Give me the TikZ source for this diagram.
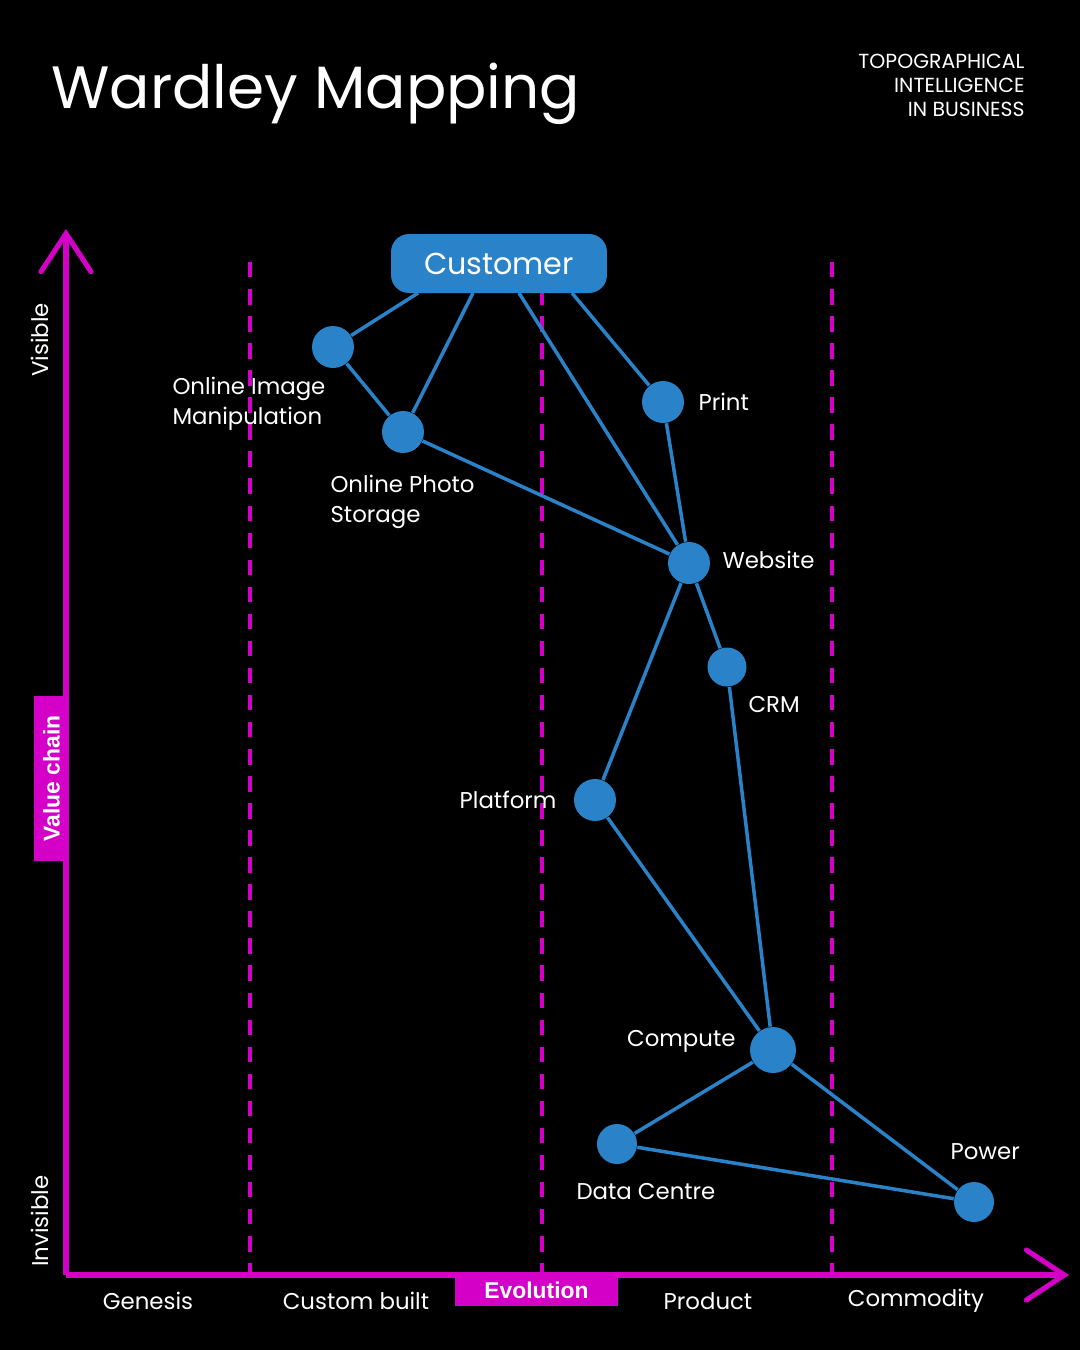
\documentclass[tikz,border=0pt]{standalone}
\usepackage{fontspec}
\setmainfont{Poppins}
\newfontfamily\boldsans{Liberation Sans}
\usepackage{tikz}
\usetikzlibrary{arrows.meta,positioning,calc}

\definecolor{wmagenta}{HTML}{D400C8}
\definecolor{wblue}{HTML}{2A82C8}

\begin{document}
\begin{tikzpicture}[x=0.02cm, y=-0.02cm, semithick]
\tikzstyle{comp}=[circle, fill=wblue, draw=none, minimum size=0.84cm, inner sep=0pt]
\tikzstyle{link}=[draw=wblue, line width=2pt]
\tikzstyle{lbl}=[text=white, inner sep=0pt, align=left, font=\fontsize{13}{17}\selectfont]
\tikzstyle{stage}=[text=white, inner sep=0pt, font=\fontsize{13}{17}\selectfont]
\tikzstyle{axis}=[draw=wmagenta, line width=2.9pt, -{Straight Barb[length=0.76cm, width=1cm, line cap=round]}]
\tikzstyle{divider}=[draw=wmagenta, line width=2.1pt, dash pattern=on 8.8pt off 6.6pt]
\tikzstyle{tag}=[fill=wmagenta, text=white, inner sep=0pt, font=\boldsans\bfseries\fontsize{13}{15}\selectfont]

% background and page size
\fill[black] (0,0) rectangle (1080,1350);
\useasboundingbox (0,0) rectangle (1080,1350);

% heading
\node[text=white, anchor=base west, inner sep=0pt, font=\fontsize{34}{40}\selectfont] (title) at (51,108) {Wardley Mapping};
\node[text=white, anchor=north east, inner sep=0pt, align=right, font=\fontsize{11.6}{13.6}\selectfont] (subtitle) at (1025,54) {TOPOGRAPHICAL\\INTELLIGENCE\\IN BUSINESS};

% evolution stages
\foreach \x in {250,542,832}
	\draw[divider] (\x,262) -- (\x,1275);

% axes
\coordinate (origin) at (66,1275);
\coordinate (ytip) at (66,229);
\coordinate (xtip) at (1069,1275);
\draw[axis] (origin) -- (ytip);
\draw[axis] (origin) -- (xtip);

\node[tag, minimum width=3.3cm, minimum height=0.7cm, rotate=90] (vchain) at (51.5,778.5) {Value chain};
\node[tag, minimum width=3.26cm, minimum height=0.62cm] (evo) at (536.5,1290.5) {Evolution};
\node[stage, rotate=90] (visible) at (40,340) {Visible};
\node[stage, rotate=90] (invisible) at (40,1221) {Invisible};

\node[stage] (genesis) at (148,1301) {Genesis};
\node[stage] (custom) at (356,1301) {Custom built};
\node[stage] (product) at (708,1301) {Product};
\node[stage] (commodity) at (916,1301) {Commodity};

% components
\node[comp] (oim) at (333,347) {};
\node[comp] (ops) at (403,432) {};
\node[comp] (print) at (663,402) {};
\node[comp] (web) at (689,563) {};
\node[comp, minimum size=0.78cm] (crm) at (727,667) {};
\node[comp] (plat) at (595,800) {};
\node[comp, minimum size=0.92cm] (comp) at (773,1050) {};
\node[comp, minimum size=0.8cm] (dc) at (617,1144) {};
\node[comp, minimum size=0.8cm] (power) at (974,1202) {};

\node[lbl, anchor=west] (loim) at (172,404) {Online Image\\Manipulation};
\node[lbl, anchor=west] (lops) at (330,502) {Online Photo\\Storage};
\node[lbl, anchor=west] (lprint) at (698,402) {Print};
\node[lbl, anchor=west] (lweb) at (722,560) {Website};
\node[lbl, anchor=west] (lcrm) at (748,704) {CRM};
\node[lbl, anchor=east] (lplat) at (557,800) {Platform};
\node[lbl, anchor=east] (lcomp) at (736,1041) {Compute};
\node[lbl, anchor=west] (ldc) at (576,1192) {Data Centre};
\node[lbl, anchor=west] (lpower) at (950,1152) {Power};

% links
\coordinate (c1) at (418,293);
\coordinate (c2) at (473,293);
\coordinate (c3) at (519,293);
\coordinate (c4) at (572,293);

\path[link]
	(c1)	edge		(oim)
	(c2)	edge		(ops)
	(c3)	edge		(web)
	(c4)	edge		(print)
	(oim)	edge		(ops)
	(ops)	edge		(web)
	(print)	edge		(web)
	(web)	edge		(crm)
		edge		(plat)
	(crm)	edge		(comp)
	(plat)	edge		(comp)
	(comp)	edge		(dc)
		edge		(power)
	(dc)	edge		(power)
;

\node[fill=wblue, text=white, rounded corners=0.36cm, minimum width=4.32cm, minimum height=1.18cm, font=\fontsize{17.2}{20}\selectfont] (cust) at (499,263.5) {Customer};

\end{tikzpicture}
\end{document}
